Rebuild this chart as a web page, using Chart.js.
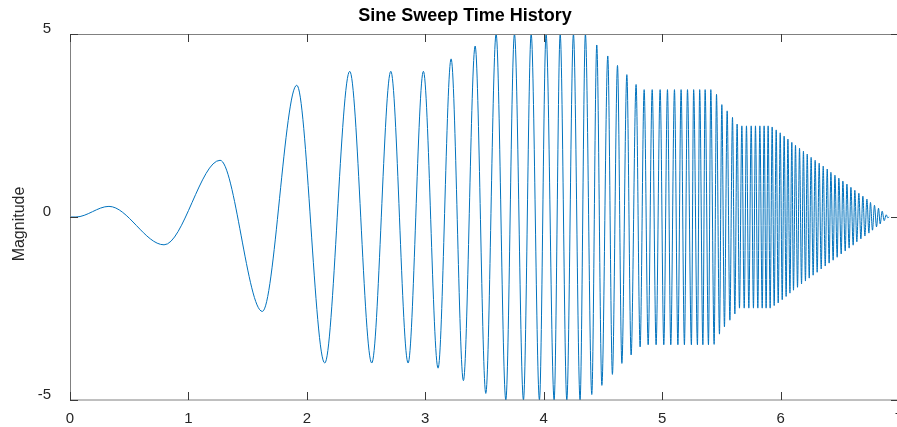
<!DOCTYPE html>
<html>
<head>
<meta charset="utf-8">
<script src="https://cdn.jsdelivr.net/npm/chart.js@4/dist/chart.umd.min.js"></script>
<style>
  html, body { margin: 0; padding: 0; background: #fff; overflow: hidden; width: 897px; height: 427px; }
  #wrap { position: absolute; left: 0; top: 0; }
</style>
</head>
<body>
<div id="wrap"><canvas id="sweepChart" width="912" height="427"></canvas></div>
<script>
// extremos (tiempo, magnitud)
const sweepTime = [
  0, 0.05, 0.329, 0.794, 1.267, 1.624, 1.915, 2.151, 2.362, 2.548, 2.709, 2.855, 2.984, 3.108,
  3.218, 3.322, 3.421, 3.511, 3.598, 3.680, 3.753, 3.829, 3.894, 3.964, 4.020, 4.088, 4.139, 4.195,
  4.251, 4.307, 4.352, 4.406, 4.448, 4.491, 4.541, 4.580, 4.623, 4.660, 4.702, 4.738, 4.780, 4.814,
  4.848, 4.882, 4.916, 4.949, 4.983, 5.014, 5.045, 5.073, 5.104, 5.133, 5.160, 5.188, 5.214, 5.247,
  5.266, 5.298, 5.317, 5.344, 5.363, 5.391, 5.411, 5.439, 5.459, 5.484, 5.504, 5.526, 5.549, 5.572,
  5.594, 5.614, 5.633, 5.653, 5.673, 5.693, 5.712, 5.732, 5.752, 5.771, 5.788, 5.808, 5.825, 5.845,
  5.861, 5.878, 5.895, 5.912, 5.929, 5.946, 5.963, 5.980, 5.997, 6.014, 6.030, 6.047, 6.062, 6.079,
  6.095, 6.109, 6.126, 6.143, 6.160, 6.177, 6.193, 6.210, 6.225, 6.242, 6.258, 6.275, 6.292, 6.309,
  6.326, 6.343, 6.360, 6.377, 6.394, 6.410, 6.425, 6.444, 6.459, 6.478, 6.492, 6.512, 6.526, 6.546,
  6.560, 6.579, 6.594, 6.613, 6.627, 6.644, 6.661, 6.678, 6.695, 6.712, 6.729, 6.746, 6.759, 6.776,
  6.793, 6.810, 6.827, 6.841, 6.858, 6.875, 6.892, 6.905, 6.917
];
const sweepMag = [
  0, 0, 0.29, -0.76, 1.55, -2.58, 3.60, -3.99, 3.98, -3.99, 3.98, -3.99, 3.98, -4.13,
  4.32, -4.47, 4.67, -4.82, 5, -5, 5, -5, 5, -5, 5, -5, 5, -5,
  5, -5, 5, -4.85, 4.7, -4.6, 4.4, -4.3, 4.14, -4.0, 3.89, -3.77, 3.62, -3.55,
  3.48, -3.49, 3.48, -3.49, 3.48, -3.49, 3.48, -3.49, 3.48, -3.49, 3.48, -3.49, 3.48, -3.49,
  3.48, -3.49, 3.48, -3.49, 3.48, -3.49, 3.48, -3.48, 3.35, -3.2, 3.07, -3.0, 2.9, -2.82,
  2.72, -2.65, 2.54, -2.49, 2.49, -2.49, 2.49, -2.49, 2.49, -2.49, 2.49, -2.49, 2.49, -2.49,
  2.49, -2.49, 2.49, -2.49, 2.46, -2.42, 2.38, -2.35, 2.30, -2.26, 2.21, -2.17, 2.13, -2.08,
  2.04, -2.00, 1.96, -1.92, 1.88, -1.83, 1.80, -1.75, 1.72, -1.67, 1.63, -1.59, 1.55, -1.51,
  1.47, -1.42, 1.39, -1.34, 1.31, -1.26, 1.22, -1.18, 1.14, -1.10, 1.06, -1.01, 0.98, -0.93,
  0.90, -0.85, 0.81, -0.77, 0.73, -0.68, 0.65, -0.60, 0.57, -0.52, 0.49, -0.44, 0.40, -0.36,
  0.32, -0.27, 0.24, -0.19, 0.16, -0.10, 0.06, -0.02, 0
];

const xTicks = [0, 1, 2, 3, 4, 5, 6, 7];
const yTicks = [-5, 0, 5];
const chartTitle = 'Sine Sweep Time History';
const yTitle = 'Magnitude';

const FONT = '"Liberation Sans", Arial, Helvetica, sans-serif';

// marco estilo matlab: caja, marcas hacia dentro, titulos
const framePlugin = {
  id: 'frame',
  afterDatasetsDraw(chart) {
    const { ctx, chartArea: a, scales } = chart;
    ctx.save();
    ctx.strokeStyle = '#808080';
    ctx.lineWidth = 1;
    ctx.strokeRect(a.left + 0.5, a.top + 0.5, a.right - a.left, a.bottom - a.top - 0.5);

    ctx.strokeStyle = '#3a3a3a';
    ctx.beginPath();
    xTicks.forEach(v => {
      const px = Math.round(scales.x.getPixelForValue(v)) + 0.5;
      ctx.moveTo(px, a.top); ctx.lineTo(px, a.top + 8);
      ctx.moveTo(px, a.bottom); ctx.lineTo(px, a.bottom - 8);
    });
    yTicks.forEach(v => {
      const py = Math.round(scales.y.getPixelForValue(v)) + 0.5;
      ctx.moveTo(a.left, py); ctx.lineTo(a.left + 8, py);
      ctx.moveTo(a.right, py); ctx.lineTo(a.right - 8, py);
    });
    ctx.stroke();

    ctx.fillStyle = '#000';
    ctx.font = 'bold 18px ' + FONT;
    ctx.textAlign = 'center';
    ctx.textBaseline = 'middle';
    ctx.fillText(chartTitle, 465, 16);

    ctx.fillStyle = '#262626';
    ctx.font = '16px ' + FONT;
    ctx.translate(20, 224);
    ctx.rotate(-Math.PI / 2);
    ctx.fillText(yTitle, 0, 0);
    ctx.restore();
  }
};

new Chart(document.getElementById('sweepChart'), {
  type: 'line',
  data: {
    datasets: [{
      data: sweepTime.map((t, i) => ({ x: t, y: sweepMag[i] })),
      borderColor: '#0072BD',
      borderWidth: 1,
      pointRadius: 0,
      fill: false,
      cubicInterpolationMode: 'monotone'
    }]
  },
  options: {
    responsive: false,
    animation: false,
    devicePixelRatio: 1,
    layout: { padding: { top: 34, right: 13, left: 0, bottom: 0 } },
    plugins: { legend: { display: false }, tooltip: { enabled: false }, title: { display: false } },
    scales: {
      x: {
        type: 'linear', min: 0, max: 7,
        afterBuildTicks: s => { s.ticks = xTicks.map(v => ({ value: v })); },
        afterFit: s => { s.height = 27; },
        grid: { display: false },
        border: { display: false },
        ticks: { color: '#262626', font: { family: FONT, size: 15 }, padding: 2, maxRotation: 0 }
      },
      y: {
        type: 'linear', min: -5, max: 5,
        afterBuildTicks: s => { s.ticks = yTicks.map(v => ({ value: v })); },
        afterFit: s => { s.width = 70; },
        grid: { display: false },
        border: { display: false },
        ticks: { color: '#262626', font: { family: FONT, size: 15 }, padding: 11, labelOffset: -5 }
      }
    }
  },
  plugins: [framePlugin]
});
</script>
</body>
</html>
